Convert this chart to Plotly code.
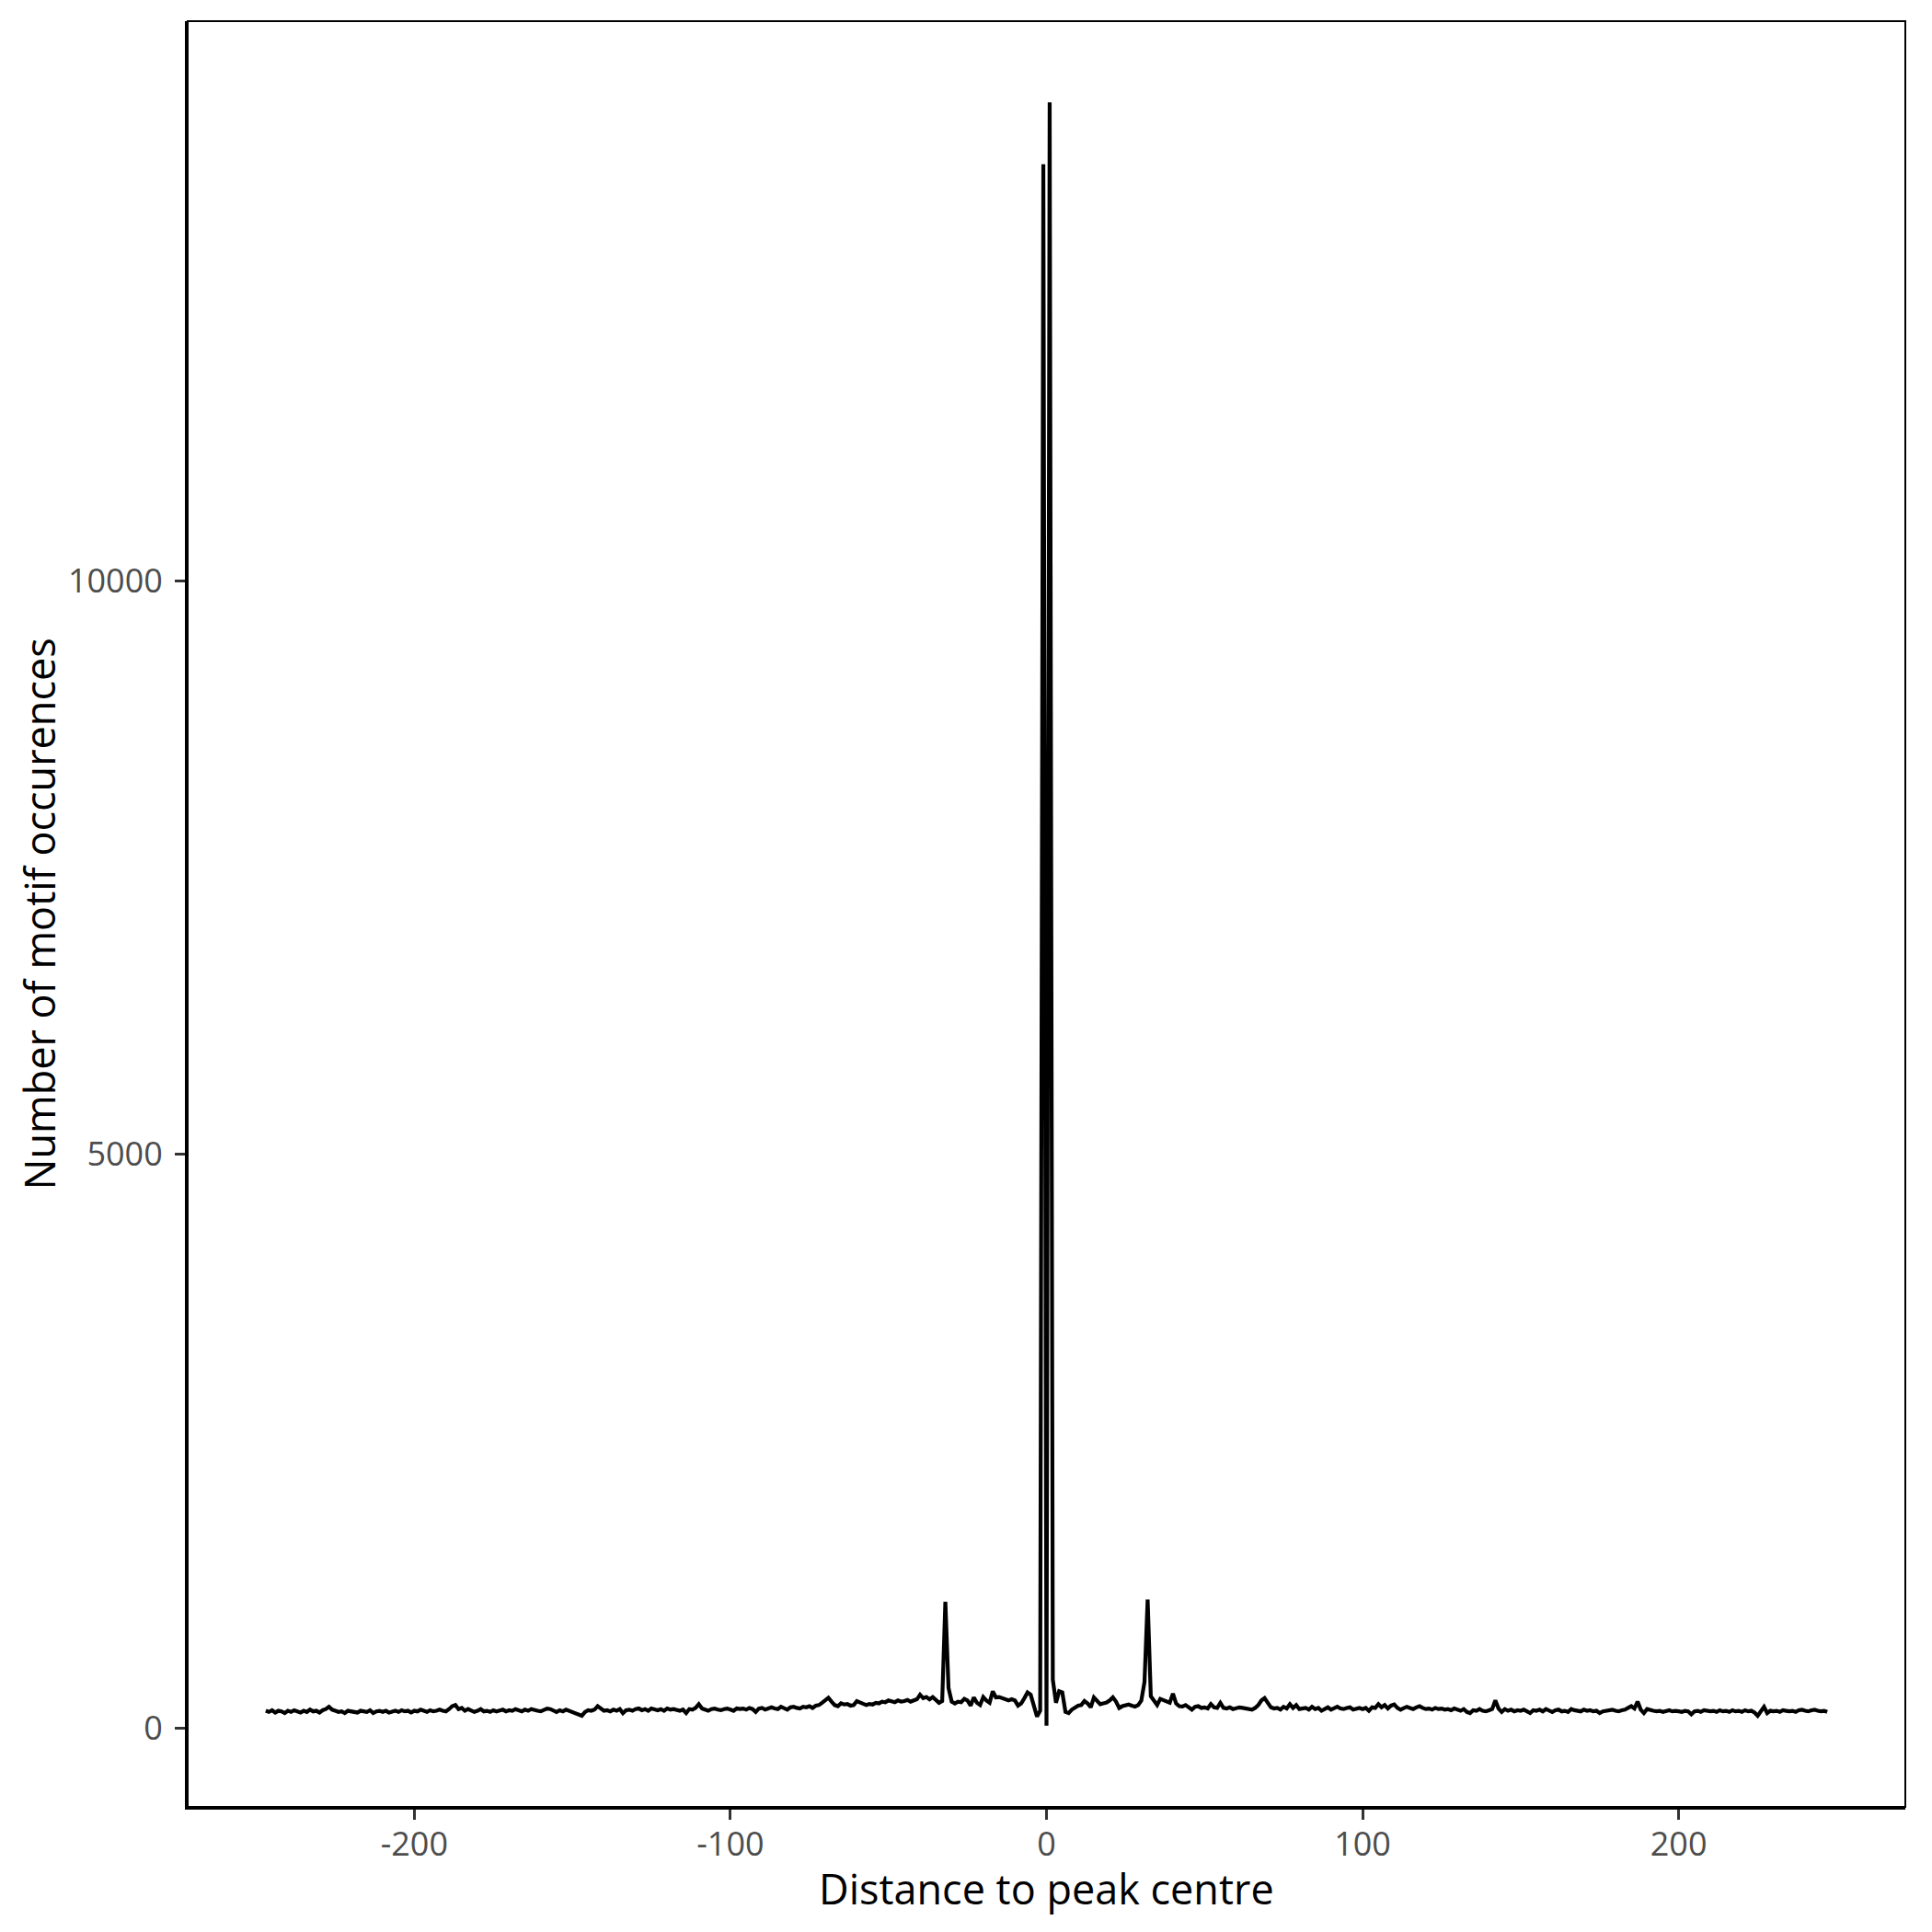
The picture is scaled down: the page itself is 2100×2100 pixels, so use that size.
import plotly.graph_objects as go

# Distance to peak centre (bp)
x_start, x_end = -247, 247
distance = list(range(x_start, x_end + 1))

# Number of motif occurrences
counts = [
    # -247 .. -238
    150, 140, 155, 135, 150, 145, 130, 150, 140, 155,
    # -237 .. -228
    145, 135, 150, 140, 160, 145, 150, 135, 155, 165,
    # -227 .. -218
    185, 160, 150, 140, 145, 130, 150, 145, 140, 135,
    # -217 .. -208
    150, 145, 140, 155, 130, 145, 150, 140, 150, 135,
    # -207 .. -198
    145, 150, 140, 155, 145, 150, 135, 150, 145, 160,
    # -197 .. -188
    150, 140, 155, 145, 150, 160, 150, 145, 165, 190,
    # -187 .. -178
    200, 165, 175, 150, 165, 155, 140, 150, 165, 145,
    # -177 .. -168
    150, 140, 155, 145, 150, 160, 145, 155, 150, 165,
    # -167 .. -158
    155, 145, 160, 150, 165, 155, 150, 145, 160, 170,
    # -157 .. -148
    165, 150, 140, 155, 145, 160, 150, 140, 125, 115,
    # -147 .. -138
    107, 140, 155, 150, 160, 190, 165, 150, 155, 145,
    # -137 .. -128
    160, 150, 165, 130, 155, 160, 150, 165, 170, 155,
    # -127 .. -118
    165, 150, 170, 160, 155, 165, 150, 170, 160, 165,
    # -117 .. -108
    155, 150, 160, 130, 165, 160, 175, 208, 170, 160,
    # -107 .. -98
    150, 165, 170, 160, 155, 165, 170, 160, 150, 170,
    # -97 .. -88
    165, 170, 160, 175, 165, 140, 170, 175, 160, 170,
    # -87 .. -78
    180, 170, 165, 185, 175, 160, 180, 185, 175, 170,
    # -77 .. -68
    185, 180, 190, 175, 195, 200, 220, 245, 264, 230,
    # -67 .. -58
    200, 190, 215, 205, 210, 195, 200, 235, 225, 215,
    # -57 .. -48
    200, 210, 205, 220, 215, 230, 225, 240, 235, 225,
    # -47 .. -38
    240, 230, 235, 245, 230, 240, 250, 290, 260, 270,
    # -37 .. -28
    250, 270, 240, 220, 235, 1100, 350, 230, 214, 230,
    # -27 .. -18
    225, 254, 240, 195, 267, 220, 200, 270, 240, 220,
    # -17 .. -8
    320, 267, 270, 260, 250, 240, 250, 240, 195, 214,
    # -7 .. 0
    260, 310, 290, 180, 100, 150, 13630, 20,
    # 1 .. 10
    14170, 420, 220, 320, 310, 140, 130, 160, 175, 195,
    # 11 .. 20
    200, 235, 215, 180, 267, 240, 208, 215, 222, 240,
    # 21 .. 30
    267, 230, 174, 190, 200, 205, 195, 187, 200, 240,
    # 31 .. 40
    400, 1120, 276, 230, 200, 254, 240, 230, 220, 300,
    # 41 .. 50
    214, 190, 187, 200, 175, 160, 185, 190, 175, 180,
    # 51 .. 60
    170, 208, 180, 175, 219, 175, 170, 180, 165, 175,
    # 61 .. 70
    180, 175, 170, 170, 160, 175, 200, 240, 260, 220,
    # 71 .. 80
    180, 170, 175, 160, 185, 170, 208, 175, 200, 165,
    # 81 .. 90
    170, 175, 160, 185, 165, 175, 150, 170, 180, 160,
    # 91 .. 100
    175, 185, 170, 165, 175, 180, 160, 170, 175, 165,
    # 101 .. 110
    175, 150, 180, 175, 208, 180, 200, 170, 195, 205,
    # 111 .. 120
    175, 160, 170, 185, 175, 165, 180, 190, 175, 165,
    # 121 .. 130
    170, 160, 175, 165, 170, 160, 165, 155, 170, 160,
    # 131 .. 140
    150, 165, 140, 130, 155, 150, 165, 150, 145, 155,
    # 141 .. 150
    165, 240, 170, 140, 165, 150, 160, 145, 155, 150,
    # 151 .. 160
    160, 145, 130, 155, 150, 160, 145, 165, 150, 140,
    # 161 .. 170
    155, 160, 145, 150, 140, 165, 155, 150, 145, 160,
    # 171 .. 180
    150, 155, 145, 150, 130, 145, 150, 155, 160, 150,
    # 181 .. 190
    145, 155, 160, 175, 190, 170, 230, 160, 130, 165,
    # 191 .. 200
    155, 150, 145, 150, 140, 150, 155, 145, 150, 145,
    # 201 .. 210
    140, 150, 145, 120, 145, 150, 140, 155, 150, 145,
    # 211 .. 220
    150, 140, 155, 145, 150, 140, 155, 145, 150, 140,
    # 221 .. 230
    155, 145, 150, 135, 107, 150, 184, 130, 150, 145,
    # 231 .. 240
    150, 140, 155, 150, 145, 150, 140, 155, 160, 150,
    # 241 .. 247
    145, 155, 160, 150, 145, 150, 140,
]
assert len(counts) == len(distance), (len(counts), len(distance))

x_ticks = [-200, -100, 0, 100, 200]
y_ticks = [0, 5000, 10000]
x_title = "Distance to peak centre"
y_title = "Number of motif occurences"

# ggplot-like 5% expansion
xmin, xmax = min(distance), max(distance)
ymin, ymax = min(counts), max(counts)
xpad = 0.05 * (xmax - xmin)
ypad = 0.05 * (ymax - ymin)

fig = go.Figure(
    go.Scatter(
        x=distance, y=counts, mode="lines",
        line=dict(color="black", width=4.2),
        showlegend=False,
    )
)

axis_common = dict(
    showgrid=False, zeroline=False, automargin=False,
    showline=True, linecolor="black", linewidth=3, mirror=False,
    ticks="outside", ticklen=11, tickwidth=3, tickcolor="#333333",
    tickfont=dict(family="Open Sans", size=36, color="#4D4D4D"),
)

title_font = dict(family="Open Sans", size=45, color="black")

fig.update_layout(
    width=2092, height=2092,
    margin=dict(l=196, r=29, t=15, b=136),
    paper_bgcolor="white", plot_bgcolor="white",
    font=dict(family="Open Sans", color="black"),
    xaxis=dict(
        range=[xmin - xpad, xmax + xpad],
        tickvals=x_ticks, ticktext=[str(v) for v in x_ticks],
        ticklabelstandoff=-4,
        **axis_common,
    ),
    yaxis=dict(
        range=[ymin - ypad, ymax + ypad],
        tickvals=y_ticks, ticktext=[str(v) for v in y_ticks],
        ticklabelstandoff=6,
        **axis_common,
    ),
    shapes=[dict(type="rect", xref="paper", yref="paper", x0=0, y0=0, x1=1, y1=1,
                 line=dict(color="black", width=2), fillcolor="rgba(0,0,0,0)",
                 layer="above")],
    annotations=[
        dict(text=x_title, xref="paper", yref="paper", x=0.5, y=0,
             xanchor="center", yanchor="middle", yshift=-88,
             showarrow=False, font=title_font),
        dict(text=y_title, xref="paper", yref="paper", x=0, y=0.5,
             xanchor="center", yanchor="middle", xshift=-162, textangle=-90,
             showarrow=False, font=title_font),
    ],
)

fig.write_html("out.html")
